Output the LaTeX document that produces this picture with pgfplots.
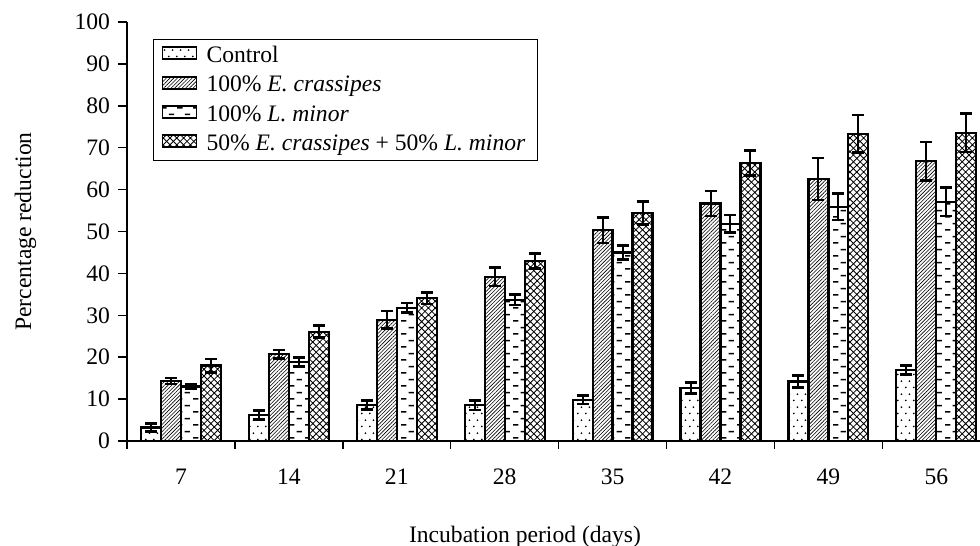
\documentclass[border=0pt]{standalone}
\usepackage{fontspec}
\setmainfont{Liberation Serif}
\usepackage{pgfplots}
\pgfplotsset{compat=1.18}
\usetikzlibrary{patterns,patterns.meta}

\tikzdeclarepattern{
  name=sparsedots, type=uncolored,
  bottom left={(0pt,0pt)}, top right={(3.8pt,6.6pt)},
  tile size={(3.8pt,6.6pt)},
  code={\tikzset{x=1pt,y=1pt}
    \fill (0.95,0.825) circle (0.5);
    \fill (2.85,4.125) circle (0.5);}
}
\tikzdeclarepattern{
  name=hdashes, type=uncolored,
  bottom left={(0pt,0pt)}, top right={(8pt,6.6pt)},
  tile size={(8pt,6.6pt)},
  code={\tikzset{x=1pt,y=1pt}
    \draw[line width=0.8pt] (0.6,1.65) -- (3.4,1.65);
    \draw[line width=0.8pt] (4.6,4.95) -- (7.4,4.95);}
}
\tikzdeclarepattern{
  name=xhatch, type=uncolored,
  bottom left={(-0.3pt,-0.3pt)}, top right={(3.7pt,3.7pt)},
  tile size={(3.4pt,3.4pt)},
  code={\tikzset{x=1pt,y=1pt}
    \draw[line width=0.4pt] (-0.3,-0.3) -- (3.7,3.7);
    \draw[line width=0.4pt] (-0.3,3.7) -- (3.7,-0.3);}
}

\newcommand{\chartfont}{\fontsize{11.8}{14}\selectfont}

\begin{document}
\begin{tikzpicture}
\path[use as bounding box] (-63.5pt,-52.5pt) rectangle (426.5pt,220.5pt);
\begin{axis}[
  at={(0pt,0pt)}, anchor=south west,
  scale only axis,
  width=426.5pt, height=209.5pt,
  xmin=0.5, xmax=8.405,
  ymin=0, ymax=100,
  axis lines=left,
  axis line style={-, line width=0.75pt},
  tick align=outside,
  tick style={black, line width=0.75pt},
  ytick={0,10,...,100},
  major tick length=4.5pt,
  minor tick length=3.8pt,
  xtick={1,...,8},
  xticklabels={7,14,21,28,35,42,49,56},
  major x tick style={draw=none},
  minor xtick={0.5,1.5,...,7.5},
  /pgf/number format/assume math mode=true,
  ticklabel style={font=\chartfont},
  yticklabel style={xshift=-0.5pt},
  xticklabel style={yshift=-6pt},
  label style={font=\chartfont},
  xlabel={Incubation period (days)},
  ylabel={Percentage reduction},
  xlabel style={at={(axis description cs:0.4666,-0.2434)}, anchor=base},
  ylabel style={at={(axis description cs:-0.1125,0.5)}, anchor=base},
  ybar, bar width=0.185,
  legend style={at={(axis description cs:0.0305,0.9594)}, anchor=north west,
    draw=black, line width=0.5pt, font=\chartfont, row sep=1.2pt,
    inner xsep=4pt, inner ysep=1.5pt},
  legend cell align=left,
  legend image code/.code={\draw[#1, line width=0.9pt] (3.5pt,-1.5pt) rectangle (20.5pt,4.5pt);
     \path (23pt,0pt);},
  error bars/y dir=both, error bars/y explicit,
  error bars/error bar style={line width=1pt, black},
  error bars/error mark options={rotate=90, line width=1.3pt, mark size=3pt, black},
]
\addplot[draw=black, line width=1.1pt, pattern=sparsedots, bar shift=-0.2775]
  coordinates {(1,3.2) +- (0,1.0) (2,6.2) +- (0,1.1) (3,8.6) +- (0,1.1) (4,8.5) +- (0,1.1)
               (5,9.8) +- (0,1.0) (6,12.7) +- (0,1.3) (7,14.2) +- (0,1.5) (8,16.9) +- (0,1.1)};
\addplot[draw=black, line width=1.1pt, pattern={Lines[angle=45,distance=1.3pt,line width=0.3pt]}, bar shift=-0.0925]
  coordinates {(1,14.3) +- (0,0.7) (2,20.7) +- (0,1.0) (3,28.9) +- (0,2.1) (4,39.2) +- (0,2.2)
               (5,50.3) +- (0,3.0) (6,56.7) +- (0,3.0) (7,62.5) +- (0,5.0) (8,66.8) +- (0,4.6)};
\addplot[draw=black, line width=1.1pt, pattern=hdashes, bar shift=0.0925]
  coordinates {(1,13.0) +- (0,0.6) (2,18.9) +- (0,1.1) (3,31.8) +- (0,1.1) (4,33.7) +- (0,1.2)
               (5,45.0) +- (0,1.7) (6,51.8) +- (0,2.1) (7,55.9) +- (0,3.2) (8,57.1) +- (0,3.4)};
\addplot[draw=black, line width=1.1pt, pattern=xhatch, bar shift=0.2775]
  coordinates {(1,18.0) +- (0,1.6) (2,26.1) +- (0,1.4) (3,34.1) +- (0,1.4) (4,43.0) +- (0,1.8)
               (5,54.4) +- (0,2.7) (6,66.3) +- (0,3.0) (7,73.3) +- (0,4.5) (8,73.6) +- (0,4.6)};
\legend{Control, 100\% \textit{E. crassipes}, 100\% \textit{L. minor}, 50\% \textit{E. crassipes} + 50\% \textit{L. minor}}
\end{axis}
\end{tikzpicture}
\end{document}
